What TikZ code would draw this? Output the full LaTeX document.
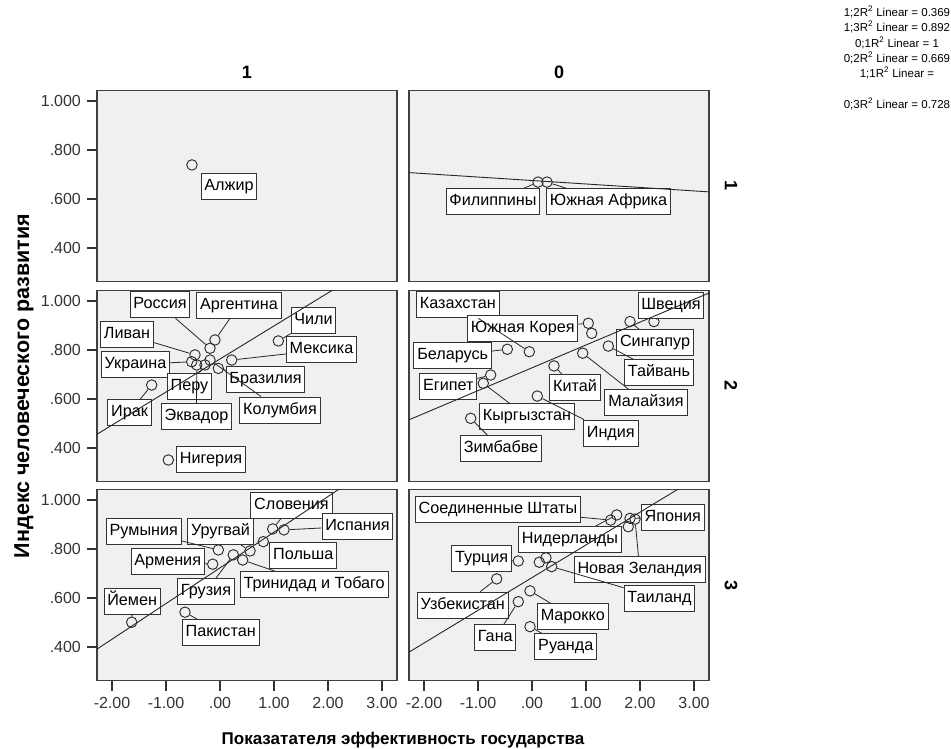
\documentclass[tikz,border=0pt]{standalone}
\usepackage{fontspec}
\setmainfont{Liberation Sans}
\usetikzlibrary{positioning}
\begin{document}
\begin{tikzpicture}[x=1pt, y=1pt,
  pnl/.style={draw=black!75, line width=1.3pt, fill=black!6},
  pt/.style={circle, draw=black!85, line width=0.9pt, minimum size=10.5pt, inner sep=0pt},
  lbl/.style={draw=black!80, line width=1pt, fill=white, inner xsep=3.3pt, inner ysep=5.5pt, text height=11.5pt, text depth=3.5pt, font=\fontsize{16.2}{18}\selectfont},
  lead/.style={black!85, line width=0.8pt},
  rfit/.style={black!85, line width=0.9pt},
  tck/.style={black!80, line width=1.3pt},
  tcklbl/.style={font=\fontsize{16}{18}\selectfont},
  ttl/.style={font=\bfseries\fontsize{18}{20}\selectfont},
  leg/.style={font=\fontsize{11.5}{13}\selectfont}]
\fill[white] (0,0) rectangle (951,749);
\useasboundingbox (0,0) rectangle (951,749);

\node[leg] (leg1) at (897,737) {1;2R\textsuperscript{2} Linear = 0.369};
\node[leg] (leg2) at (897,722) {1;3R\textsuperscript{2} Linear = 0.892};
\node[leg] (leg3) at (897,706) {0;1R\textsuperscript{2} Linear = 1};
\node[leg] (leg4) at (897,691) {0;2R\textsuperscript{2} Linear = 0.669};
\node[leg] (leg5) at (897,676) {1;1R\textsuperscript{2} Linear =};
\node[leg] (leg6) at (897,645) {0;3R\textsuperscript{2} Linear = 0.728};

\node[ttl] (col1) at (247,677) {1};
\node[ttl] (col0) at (559,677) {0};
\node[ttl, rotate=-90] (row1) at (731,563.5) {1};
\node[ttl, rotate=-90] (row2) at (731,363) {2};
\node[ttl, rotate=-90] (row3) at (731,163.5) {3};
\node[ttl, font=\bfseries\fontsize{21.5}{24}\selectfont, rotate=90, anchor=base] (ytitle) at (29,363) {Индекс человеческого развития};
\node[ttl, font=\bfseries\fontsize{17}{19}\selectfont] (xtitle) at (403,9) {Показатателя эффективность государства};

\begin{scope}[shift={(220pt,403pt)}, x=54pt, y=245pt]
\draw[pnl] (-2.28,0.263) rectangle (3.28,1.043);
\draw[tck] (-2.28,1) -- ++(-10pt,0) node[tcklbl, anchor=east, xshift=-2pt] (ya11) {1.000};
\draw[tck] (-2.28,0.8) -- ++(-10pt,0) node[tcklbl, anchor=east, xshift=-2pt] (ya12) {.800};
\draw[tck] (-2.28,0.6) -- ++(-10pt,0) node[tcklbl, anchor=east, xshift=-2pt] (ya13) {.600};
\draw[tck] (-2.28,0.4) -- ++(-10pt,0) node[tcklbl, anchor=east, xshift=-2pt] (ya14) {.400};
\node[pt] (alg) at (-0.519,0.739) {};
\node[lbl] (algL) at (0.167,0.653) {Алжир};
\end{scope}

\begin{scope}[shift={(532pt,403pt)}, x=54pt, y=245pt]
\draw[pnl] (-2.28,0.263) rectangle (3.28,1.043);
\node[pt] (phl) at (0.111,0.669) {};
\node[pt] (zaf) at (0.278,0.669) {};
\node[lbl] (phlL) at (-0.722,0.588) {Филиппины};
\node[lbl] (zafL) at (1.417,0.588) {Южная Африка};
\draw[lead] (phl) -- (phlL);
\draw[lead] (zaf) -- (zafL);
\begin{scope}
\clip (-2.28,0.263) rectangle (3.28,1.043);
\draw[rfit] (-2.3,0.708) -- (3.35,0.628);
\end{scope}
\end{scope}

\begin{scope}[shift={(220pt,203pt)}, x=54pt, y=245pt]
\draw[pnl] (-2.28,0.263) rectangle (3.28,1.043);
\draw[tck] (-2.28,1) -- ++(-10pt,0) node[tcklbl, anchor=east, xshift=-2pt] (ya21) {1.000};
\draw[tck] (-2.28,0.8) -- ++(-10pt,0) node[tcklbl, anchor=east, xshift=-2pt] (ya22) {.800};
\draw[tck] (-2.28,0.6) -- ++(-10pt,0) node[tcklbl, anchor=east, xshift=-2pt] (ya23) {.600};
\draw[tck] (-2.28,0.4) -- ++(-10pt,0) node[tcklbl, anchor=east, xshift=-2pt] (ya24) {.400};
\node[pt] (rus) at (-0.185,0.807) {};
\node[pt] (arg) at (-0.093,0.841) {};
\node[pt] (chl) at (1.080,0.837) {};
\node[pt] (leb) at (-0.463,0.780) {};
\node[pt] (mex) at (0.217,0.759) {};
\node[pt] (ukr) at (-0.524,0.752) {};
\node[pt] (per) at (-0.278,0.739) {};
\node[pt] (bra) at (-0.031,0.725) {};
\node[pt] (ecu) at (-0.431,0.739) {};
\node[pt] (col) at (-0.185,0.759) {};
\node[pt] (irq) at (-1.265,0.657) {};
\node[pt] (nga) at (-0.957,0.351) {};
\node[lbl] (rusL) at (-1.111,0.984) {Россия};
\node[lbl] (argL) at (0.352,0.982) {Аргентина};
\node[lbl] (chlL) at (1.731,0.922) {Чили};
\node[lbl] (lebL) at (-1.722,0.863) {Ливан};
\node[lbl] (mexL) at (1.880,0.800) {Мексика};
\node[lbl] (ukrL) at (-1.565,0.741) {Украина};
\node[lbl] (perL) at (-0.565,0.653) {Перу};
\node[lbl] (braL) at (0.843,0.678) {Бразилия};
\node[lbl] (irqL) at (-1.676,0.545) {Ирак};
\node[lbl] (ecuL) at (-0.435,0.527) {Эквадор};
\node[lbl] (colL) at (1.111,0.555) {Колумбия};
\node[lbl] (ngaL) at (-0.167,0.351) {Нигерия};
\draw[lead] (rus) -- (rusL);
\draw[lead] (arg) -- (argL);
\draw[lead] (chl) -- (chlL);
\draw[lead] (leb) -- (lebL);
\draw[lead] (mex) -- (mexL);
\draw[lead] (ukr) -- (ukrL);
\draw[lead] (per) -- (perL);
\draw[lead] (bra) -- (braL);
\draw[lead] (irq) -- (irqL);
\draw[lead] (ecu) -- (ecuL);
\draw[lead] (col) -- (colL);
\begin{scope}
\clip (-2.28,0.263) rectangle (3.28,1.043);
\draw[rfit] (-2.3,0.453) -- (2.4,1.087);
\end{scope}
\end{scope}

\begin{scope}[shift={(532pt,203pt)}, x=54pt, y=245pt]
\draw[pnl] (-2.28,0.263) rectangle (3.28,1.043);
\node[pt] (swe) at (2.259,0.916) {};
\node[pt] (sgp) at (1.815,0.916) {};
\node[pt] (twn) at (1.413,0.816) {};
\node[pt] (kor) at (1.043,0.909) {};
\node[pt] (x1) at (1.106,0.868) {};
\node[pt] (kaz) at (-0.050,0.793) {};
\node[pt] (blr) at (-0.457,0.803) {};
\node[pt] (chn) at (0.407,0.735) {};
\node[pt] (mys) at (0.939,0.787) {};
\node[pt] (egy) at (-0.765,0.698) {};
\node[pt] (kgz) at (-0.902,0.664) {};
\node[pt] (ind) at (0.098,0.612) {};
\node[pt] (zwe) at (-1.135,0.521) {};
\node[lbl] (kazL) at (-1.374,0.984) {Казахстан};
\node[lbl] (sweL) at (2.574,0.980) {Швеция};
\node[lbl] (korL) at (-0.170,0.887) {Южная Корея};
\node[lbl] (sgpL) at (2.278,0.830) {Сингапур};
\node[lbl] (blrL) at (-1.469,0.776) {Беларусь};
\node[lbl] (twnL) at (2.352,0.707) {Тайвань};
\node[lbl] (egyL) at (-1.550,0.653) {Египет};
\node[lbl] (chnL) at (0.796,0.647) {Китай};
\node[lbl] (mysL) at (2.111,0.584) {Малайзия};
\node[lbl] (kgzL) at (-0.093,0.528) {Кыргызстан};
\node[lbl] (indL) at (1.459,0.461) {Индия};
\node[lbl] (zweL) at (-0.574,0.396) {Зимбабве};
\draw[lead] (swe) -- (sweL);
\draw[lead] (sgp) -- (sgpL);
\draw[lead] (twn) -- (twnL);
\draw[lead] (kor) -- (korL);
\draw[lead] (kaz) -- (kazL);
\draw[lead] (blr) -- (blrL);
\draw[lead] (chn) -- (chnL);
\draw[lead] (mys) -- (mysL);
\draw[lead] (egy) -- (egyL);
\draw[lead] (kgz) -- (kgzL);
\draw[lead] (ind) -- (indL);
\draw[lead] (zwe) -- (zweL);
\begin{scope}
\clip (-2.28,0.263) rectangle (3.28,1.043);
\draw[rfit] (-2.3,0.513) -- (3.4,1.044);
\end{scope}
\end{scope}

\begin{scope}[shift={(220pt,4pt)}, x=54pt, y=245pt]
\draw[pnl] (-2.28,0.263) rectangle (3.28,1.043);
\draw[tck] (-2.28,1) -- ++(-10pt,0) node[tcklbl, anchor=east, xshift=-2pt] (ya31) {1.000};
\draw[tck] (-2.28,0.8) -- ++(-10pt,0) node[tcklbl, anchor=east, xshift=-2pt] (ya32) {.800};
\draw[tck] (-2.28,0.6) -- ++(-10pt,0) node[tcklbl, anchor=east, xshift=-2pt] (ya33) {.600};
\draw[tck] (-2.28,0.4) -- ++(-10pt,0) node[tcklbl, anchor=east, xshift=-2pt] (ya34) {.400};
\draw[tck] (-2,0.263) -- ++(0,-10pt) node[tcklbl, anchor=base, yshift=-18pt] (xa11) {-2.00};
\draw[tck] (-1,0.263) -- ++(0,-10pt) node[tcklbl, anchor=base, yshift=-18pt] (xa12) {-1.00};
\draw[tck] (0,0.263) -- ++(0,-10pt) node[tcklbl, anchor=base, yshift=-18pt] (xa13) {.00};
\draw[tck] (1,0.263) -- ++(0,-10pt) node[tcklbl, anchor=base, yshift=-18pt] (xa14) {1.00};
\draw[tck] (2,0.263) -- ++(0,-10pt) node[tcklbl, anchor=base, yshift=-18pt] (xa15) {2.00};
\draw[tck] (3,0.263) -- ++(0,-10pt) node[tcklbl, anchor=base, yshift=-18pt] (xa16) {3.00};
\node[pt] (svn) at (0.976,0.882) {};
\node[pt] (esp) at (1.185,0.878) {};
\node[pt] (pol) at (0.802,0.830) {};
\node[pt] (ury) at (0.556,0.792) {};
\node[pt] (rou) at (-0.031,0.796) {};
\node[pt] (arm) at (-0.135,0.738) {};
\node[pt] (geo) at (0.246,0.776) {};
\node[pt] (tto) at (0.420,0.755) {};
\node[pt] (pak) at (-0.648,0.542) {};
\node[pt] (yem) at (-1.635,0.501) {};
\node[lbl] (svnL) at (1.324,0.978) {Словения};
\node[lbl] (rouL) at (-1.411,0.871) {Румыния};
\node[lbl] (uryL) at (0.009,0.871) {Уругвай};
\node[lbl] (espL) at (2.546,0.893) {Испания};
\node[lbl] (armL) at (-0.969,0.748) {Армения};
\node[lbl] (polL) at (1.543,0.775) {Польша};
\node[lbl] (geoL) at (-0.259,0.626) {Грузия};
\node[lbl] (ttoL) at (1.744,0.654) {Тринидад и Тобаго};
\node[lbl] (yemL) at (-1.626,0.585) {Йемен};
\node[lbl] (pakL) at (0.013,0.458) {Пакистан};
\draw[lead] (svn) -- (svnL);
\draw[lead] (esp) -- (espL);
\draw[lead] (pol) -- (polL);
\draw[lead] (ury) -- (uryL);
\draw[lead] (rou) -- (rouL);
\draw[lead] (arm) -- (armL);
\draw[lead] (geo) -- (geoL);
\draw[lead] (tto) -- (ttoL);
\draw[lead] (pak) -- (pakL);
\draw[lead] (yem) -- (yemL);
\begin{scope}
\clip (-2.28,0.263) rectangle (3.28,1.043);
\draw[rfit] (-2.3,0.388) -- (2.3,1.058);
\end{scope}
\end{scope}

\begin{scope}[shift={(532pt,4pt)}, x=54pt, y=245pt]
\draw[pnl] (-2.28,0.263) rectangle (3.28,1.043);
\draw[tck] (-2,0.263) -- ++(0,-10pt) node[tcklbl, anchor=base, yshift=-18pt] (xa21) {-2.00};
\draw[tck] (-1,0.263) -- ++(0,-10pt) node[tcklbl, anchor=base, yshift=-18pt] (xa22) {-1.00};
\draw[tck] (0,0.263) -- ++(0,-10pt) node[tcklbl, anchor=base, yshift=-18pt] (xa23) {.00};
\draw[tck] (1,0.263) -- ++(0,-10pt) node[tcklbl, anchor=base, yshift=-18pt] (xa24) {1.00};
\draw[tck] (2,0.263) -- ++(0,-10pt) node[tcklbl, anchor=base, yshift=-18pt] (xa25) {2.00};
\draw[tck] (3,0.263) -- ++(0,-10pt) node[tcklbl, anchor=base, yshift=-18pt] (xa26) {3.00};
\node[pt] (usa) at (1.457,0.918) {};
\node[pt] (jpn) at (1.815,0.925) {};
\node[pt] (nld) at (1.569,0.939) {};
\node[pt] (nzl) at (1.907,0.922) {};
\node[pt] (x2) at (1.783,0.891) {};
\node[pt] (tur) at (-0.254,0.751) {};
\node[pt] (tha) at (0.365,0.728) {};
\node[pt] (x3) at (0.259,0.764) {};
\node[pt] (x4) at (0.135,0.746) {};
\node[pt] (uzb) at (-0.654,0.678) {};
\node[pt] (gha) at (-0.254,0.585) {};
\node[pt] (mar) at (-0.037,0.629) {};
\node[pt] (rwa) at (-0.037,0.483) {};
\node[lbl] (usaL) at (-0.630,0.961) {Соединенные Штаты};
\node[lbl] (jpnL) at (2.607,0.930) {Япония};
\node[lbl] (nldL) at (0.704,0.839) {Нидерланды};
\node[lbl] (turL) at (-0.931,0.760) {Турция};
\node[lbl] (nzlL) at (1.994,0.717) {Новая Зеландия};
\node[lbl] (thaL) at (2.361,0.599) {Таиланд};
\node[lbl] (uzbL) at (-1.281,0.571) {Узбекистан};
\node[lbl] (marL) at (0.756,0.524) {Марокко};
\node[lbl] (ghaL) at (-0.680,0.438) {Гана};
\node[lbl] (rwaL) at (0.626,0.401) {Руанда};
\draw[lead] (usa) -- (usaL);
\draw[lead] (jpn) -- (jpnL);
\draw[lead] (nld) -- (nldL);
\draw[lead] (tur) -- (turL);
\draw[lead] (nzl) -- (nzlL);
\draw[lead] (tha) -- (thaL);
\draw[lead] (uzb) -- (uzbL);
\draw[lead] (mar) -- (marL);
\draw[lead] (gha) -- (ghaL);
\draw[lead] (rwa) -- (rwaL);
\begin{scope}
\clip (-2.28,0.263) rectangle (3.28,1.043);
\draw[rfit] (-2.3,0.376) -- (2.8,1.057);
\end{scope}
\end{scope}
\end{tikzpicture}
\end{document}
